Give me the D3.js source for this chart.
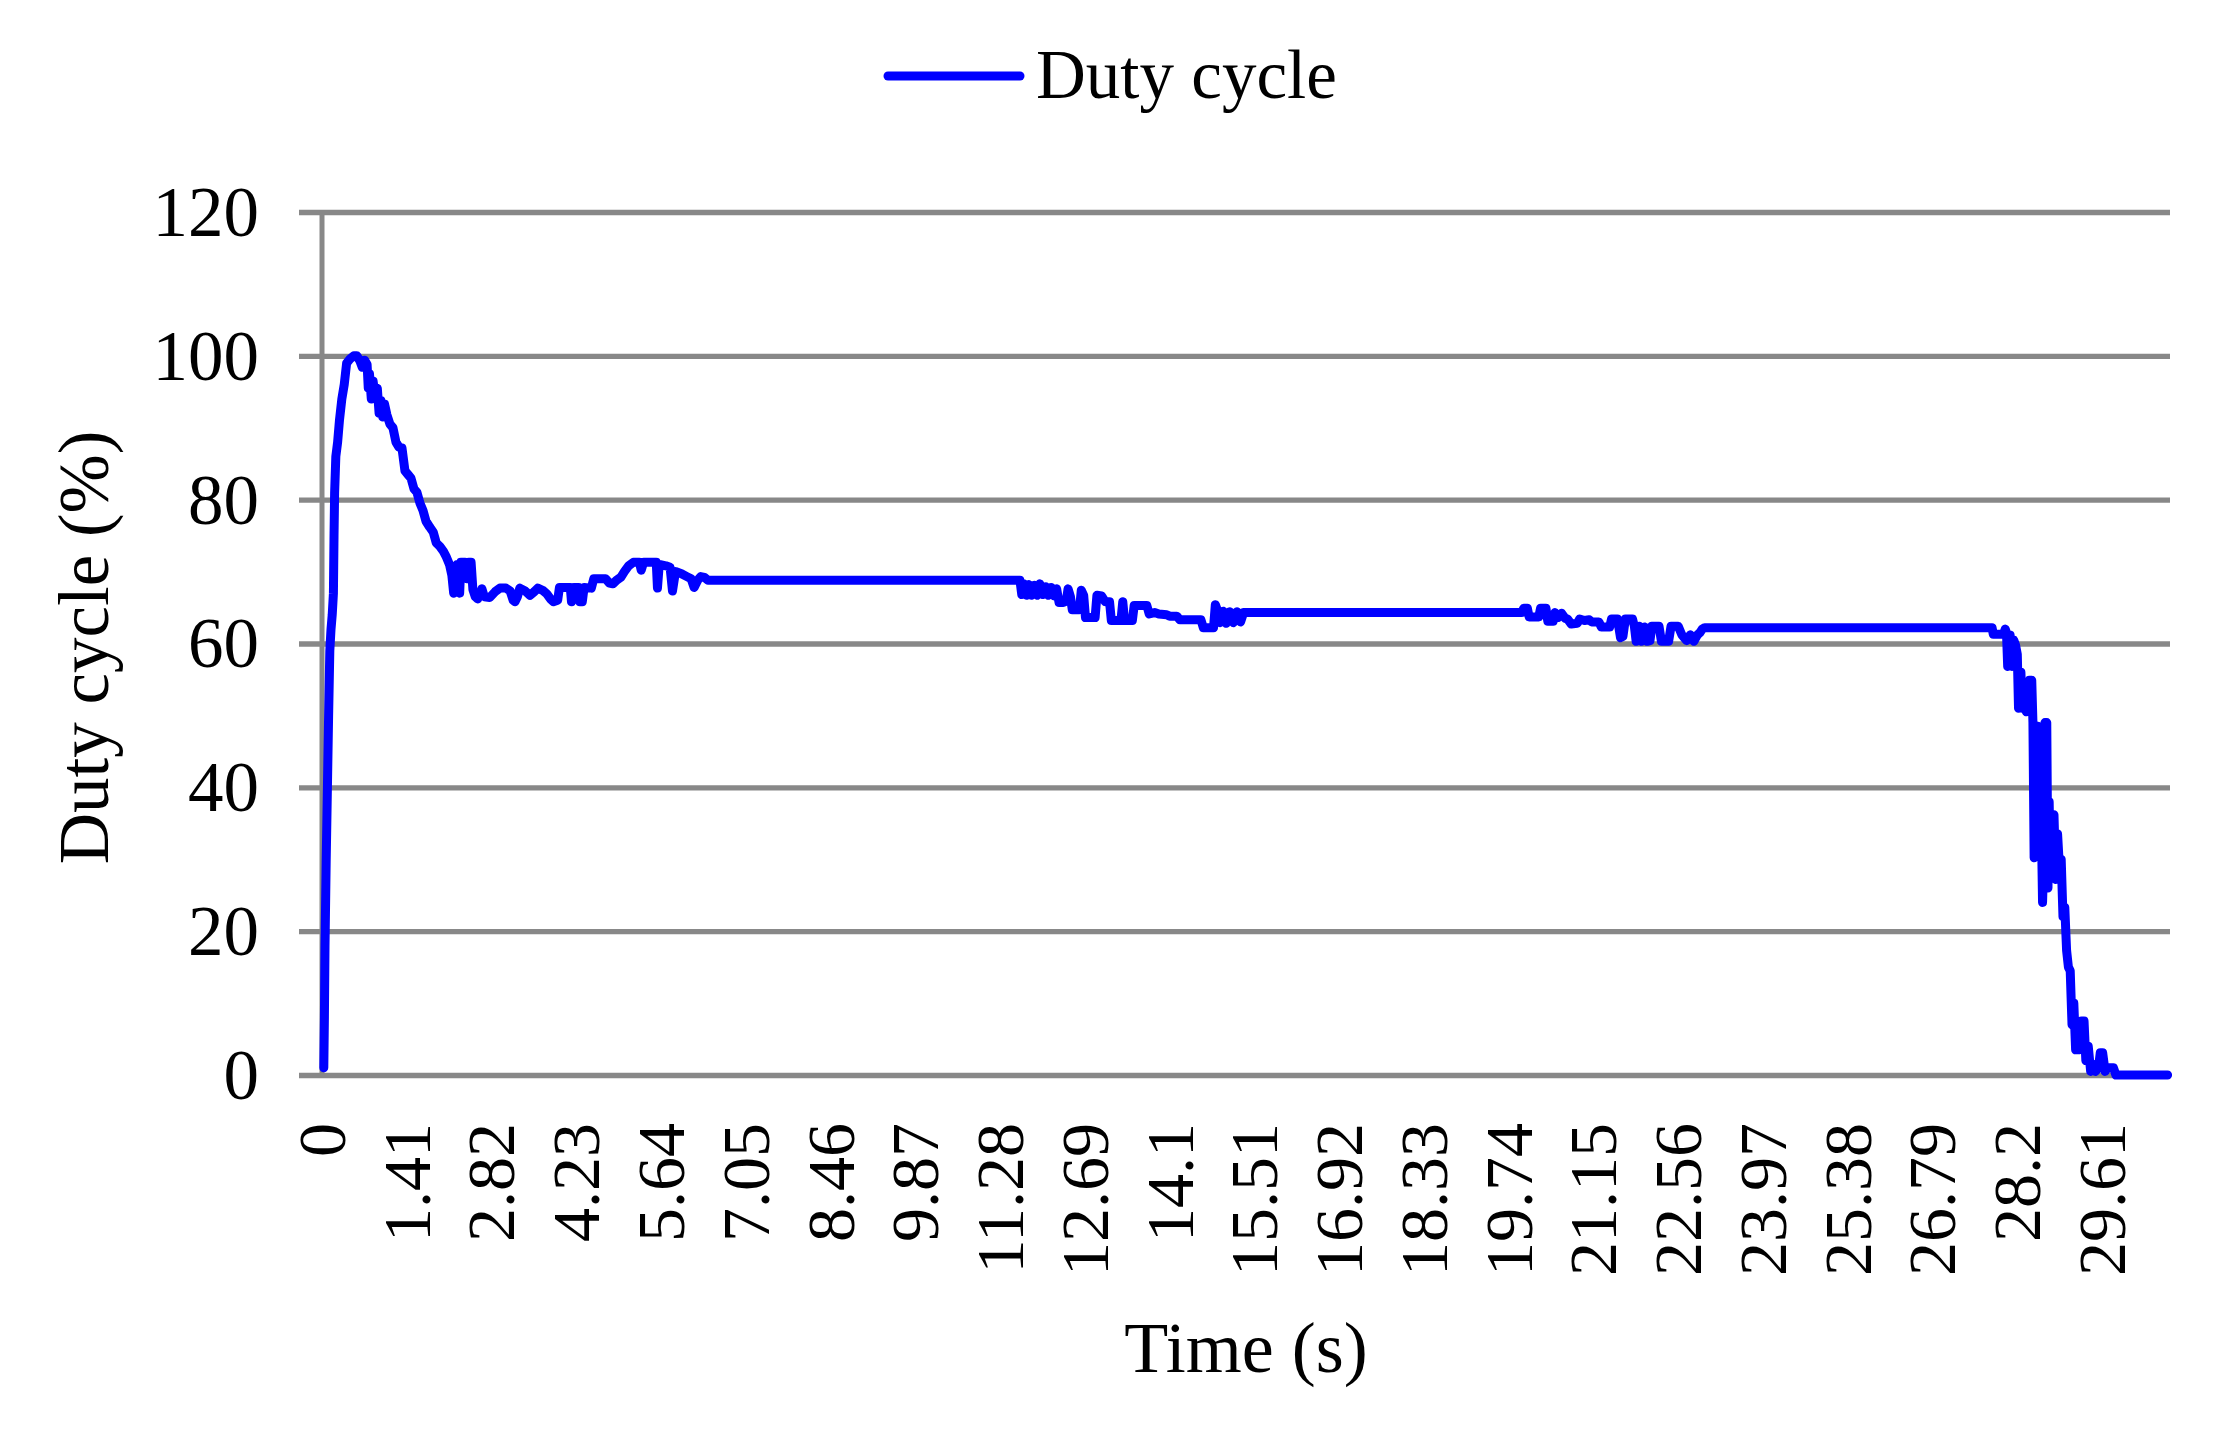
<!DOCTYPE html>
<html>
<head>
<meta charset="utf-8">
<script src="https://cdn.jsdelivr.net/npm/d3@7"></script>
<style>
  html, body { margin: 0; padding: 0; background: #ffffff; }
  svg { display: block; }
  text { font-family: "Liberation Serif", "Times New Roman", serif; fill: #000; }
</style>
</head>
<body>
<svg id="chart" width="2226" height="1432"></svg>
<script>
// ---- data ----
const seriesName = "Duty cycle";
const xTitle = "Time (s)";
const yTitle = "Duty cycle (%)";
const xTickLabels = ["0","1.41","2.82","4.23","5.64","7.05","8.46","9.87","11.28","12.69","14.1","15.51","16.92","18.33","19.74","21.15","22.56","23.97","25.38","26.79","28.2","29.61"];
const yTickValues = [0, 20, 40, 60, 80, 100, 120];
const timeEnd = 30.74;

// time (s)
const time = [
  0.03,0.04,0.05,0.07,0.09,0.11,0.13,0.15,0.17,0.19,0.20,0.21,0.23,0.26,0.29,0.33,0.37,0.41,0.47,0.53,
  0.58,0.63,0.67,0.71,0.75,0.77,0.79,0.82,0.85,0.88,0.92,0.95,0.98,1.01,1.04,1.08,1.13,1.18,1.23,1.28,
  1.33,1.38,1.43,1.48,1.53,1.58,1.63,1.68,1.73,1.79,1.85,1.90,1.96,2.02,2.07,2.12,2.16,2.19,2.22,2.25,
  2.27,2.29,2.31,2.38,2.41,2.44,2.48,2.51,2.55,2.59,2.63,2.66,2.70,2.79,2.88,2.96,3.06,3.13,3.18,3.21,
  3.25,3.29,3.38,3.46,3.53,3.59,3.67,3.74,3.80,3.85,3.92,3.95,4.05,4.13,4.15,4.19,4.27,4.29,4.33,4.36,
  4.48,4.52,4.72,4.78,4.84,4.90,4.97,5.03,5.10,5.18,5.28,5.31,5.35,5.56,5.58,5.61,5.72,5.79,5.83,5.88,
  5.98,6.07,6.14,6.19,6.25,6.30,6.36,6.42,
  11.61,11.64,11.68,11.72,11.76,11.80,11.85,11.90,11.94,11.99,12.04,12.08,12.13,12.18,12.22,12.26,12.33,12.38,12.41,12.45,
  12.48,12.60,12.63,12.67,12.70,12.86,12.89,12.97,13.03,13.10,13.13,13.29,13.32,13.35,13.48,13.51,13.72,13.76,13.85,13.92,
  14.05,14.10,14.22,14.27,14.62,14.66,14.83,14.86,14.90,14.94,14.99,15.04,15.10,15.16,15.22,15.28,15.33,
  19.96,19.99,20.05,20.08,20.24,20.27,20.36,20.39,20.48,20.51,20.56,20.62,20.68,20.72,20.78,20.88,20.92,21.00,21.08,21.12,
  21.24,21.28,21.42,21.45,21.55,21.60,21.64,21.68,21.80,21.83,21.86,21.91,21.95,22.00,22.04,22.09,22.12,22.24,22.28,22.40,
  22.44,22.56,22.62,22.70,22.76,22.82,22.88,22.92,22.96,23.00,
  27.78,27.80,27.97,28.00,28.02,28.04,28.08,28.11,28.14,28.17,28.20,28.22,28.26,28.28,28.32,28.35,28.40,28.44,28.46,28.48,
  28.50,28.52,28.54,28.56,28.59,28.62,28.64,28.66,28.69,28.71,28.73,28.75,28.78,28.81,28.84,28.87,28.90,28.93,28.96,28.99,
  29.02,29.05,29.08,29.11,29.14,29.17,29.20,29.23,29.27,29.31,29.34,29.38,29.42,29.46,29.50,29.55,29.58,29.62,29.66,29.70,
  29.80,29.84,30.70
];

// duty cycle (%)
const duty = [
  1,8,18,30,40,50,59,62,64,67,75,81,86,88,91,94,96,99,99.6,100,
  100,99.3,98.4,99.4,98.8,95.5,97.5,94,96.5,94.5,95.5,92,93.8,91.5,93.3,91.8,90.5,90,88,87.3,
  87.2,84,83.5,83,81.5,81,79.5,78.5,77,76.2,75.5,74,73.5,72.8,72,71,69.5,67,69,71,
  68,67,71.3,71.3,69,71.3,71.3,67.5,66.5,66.2,66.8,67.6,66.5,66.4,67.2,67.7,67.7,67.3,66,65.8,
  66.5,67.7,67.3,66.7,67.2,67.7,67.4,66.9,66.2,65.8,66,67.8,67.8,67.8,65.8,67.8,67.8,65.8,65.8,67.8,
  67.7,69,69,68.4,68.3,68.8,69.2,70,70.8,71.3,71.3,70.2,71.3,71.3,67.7,71,70.8,70.6,67.3,70,
  69.7,69.3,69,67.8,68.8,69.3,69.2,68.8,
  68.8,66.8,68.3,66.7,68.2,66.7,68.1,66.7,68.3,66.8,67.9,66.7,67.8,66.6,67.6,65.7,65.7,65.9,67.6,66.5,
  64.7,64.7,67.4,66.7,63.6,63.6,66.7,66.6,65.8,65.8,63.2,63.2,65.8,63.2,63.2,65.3,65.3,64.1,64.3,64.1,
  64.0,63.8,63.8,63.3,63.3,62.2,62.2,65.4,64.5,62.9,64.5,62.8,64.4,62.9,64.4,63.0,64.3,
  64.3,64.9,64.9,63.7,63.7,64.9,64.9,63.1,63.1,64.3,63.6,64.2,63.5,63.4,62.7,62.8,63.4,63.2,63.3,63.0,
  63.0,62.3,62.3,63.4,63.4,60.8,61.0,63.4,63.4,62.4,60.3,62.4,60.3,62.3,60.3,60.4,62.4,62.4,60.3,60.3,
  62.4,62.4,61.2,60.4,61.2,60.3,61.2,61.5,62.0,62.2,
  62.2,61.3,61.3,62.0,61.5,56.8,61.2,56.8,60.5,59.8,58.5,51.0,56,51.0,51.2,50.5,54.9,54.9,49.0,30.2,
  42,30.5,48.5,31,40,24.0,30,49.0,49.0,26,38,28,36.2,36.2,27.2,33.5,29,30,22,23.3,
  17.3,15,14.5,7,10,3.5,5,3.5,7.5,7.5,2,4,0.5,1.5,0.5,1,3.1,3.1,0.5,1.0,
  1.0,0,0
];

// ---- chart ----
const svg = d3.select("#chart");
svg.append("rect").attr("width", 2226).attr("height", 1432).attr("fill", "#ffffff");

const plotLeft = 322, plotRight = 2170, plotTop = 212, plotBottom = 1075, tickOut = 23;
const gridColor = "#888888";

const x = d3.scaleLinear().domain([0, timeEnd]).range([plotLeft, plotRight]);
const y = d3.scaleLinear().domain([0, 120]).range([plotBottom, plotTop]);

// horizontal gridlines + y tick labels
const yAxis = d3.axisLeft(y)
  .tickValues(yTickValues)
  .tickFormat(d3.format("d"))
  .tickSize(-(plotRight - plotLeft + tickOut))
  .tickPadding(40);
const gy = svg.append("g").attr("transform", `translate(${plotLeft - tickOut},0)`).call(yAxis);
gy.select(".domain").remove();
gy.selectAll(".tick line").attr("stroke", gridColor).attr("stroke-width", 5.3);
gy.selectAll(".tick text")
  .attr("font-family", "Liberation Serif, serif")
  .attr("font-size", 71)
  .attr("dy", "0.33em")
  .attr("fill", "#000");

// vertical axis line
svg.append("line")
  .attr("x1", plotLeft).attr("x2", plotLeft)
  .attr("y1", y(120)).attr("y2", y(0))
  .attr("stroke", gridColor).attr("stroke-width", 5);

// x tick labels (rotated)
const xTickValues = xTickLabels.map(Number);
const xAxis = d3.axisBottom(x)
  .tickValues(xTickValues)
  .tickFormat((d, i) => xTickLabels[i])
  .tickSize(0)
  .tickPadding(0);
const gx = svg.append("g").attr("transform", "translate(0,1123)").call(xAxis);
gx.select(".domain").remove();
gx.selectAll(".tick text")
  .attr("font-family", "Liberation Serif, serif")
  .attr("font-size", 68)
  .attr("fill", "#000")
  .attr("text-anchor", "end")
  .attr("x", 0).attr("y", 0)
  .attr("dy", "0.33em")
  .attr("transform", "rotate(-90)");

// line
const pts = time.map((t, i) => [t, duty[i]]);
const line = d3.line().x(d => x(d[0])).y(d => y(d[1]));
svg.append("path")
  .datum(pts)
  .attr("d", line)
  .attr("fill", "none")
  .attr("stroke", "#0000ff")
  .attr("stroke-width", 9)
  .attr("stroke-linejoin", "round")
  .attr("stroke-linecap", "round");

// axis titles
svg.append("text")
  .attr("x", (plotLeft + plotRight) / 2).attr("y", 1372)
  .attr("text-anchor", "middle")
  .attr("font-size", 72)
  .text(xTitle);

svg.append("text")
  .attr("transform", `translate(108,${(plotTop + plotBottom) / 2 + 4}) rotate(-90)`)
  .attr("text-anchor", "middle")
  .attr("font-size", 71)
  .text(yTitle);

// legend
svg.append("line")
  .attr("x1", 888).attr("x2", 1020)
  .attr("y1", 76).attr("y2", 76)
  .attr("stroke", "#0000ff").attr("stroke-width", 9)
  .attr("stroke-linecap", "round");
svg.append("text")
  .attr("x", 1036).attr("y", 98)
  .attr("font-size", 69)
  .text(seriesName);
</script>
</body>
</html>
